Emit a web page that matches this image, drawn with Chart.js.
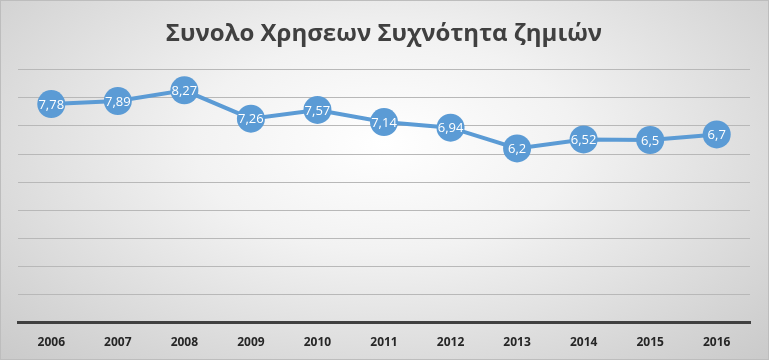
<!DOCTYPE html>
<html>
<head>
<meta charset="utf-8">
<script src="https://cdn.jsdelivr.net/npm/chart.js@4/dist/chart.umd.min.js"></script>
<style>
    html, body { margin: 0; padding: 0; }
    #wrap {
        width: 767px; height: 358px;
        border: 1px solid #bdbdbd;
        background: radial-gradient(ellipse at 50% 40%, #ffffff 0%, #f2f2f2 35%, #d6d6d6 80%, #cacaca 100%);
    }
</style>
</head>
<body>
<div id="wrap"><canvas id="freqChart" width="767" height="358"></canvas></div>
<script>
"use strict";
var years = ["2006", "2007", "2008", "2009", "2010", "2011", "2012", "2013", "2014", "2015", "2016"];
var frequency = [7.78, 7.89, 8.27, 7.26, 7.57, 7.14, 6.94, 6.2, 6.52, 6.5, 6.7];
var yTicks = [0, 1, 2, 3, 4, 5, 6, 7, 8, 9];

/* white value labels inside the markers */
var valueLabels = {
    id: "valueLabels",
    afterDatasetsDraw: function (chart) {
        var ctx = chart.ctx;
        var meta = chart.getDatasetMeta(0);
        ctx.save();
        ctx.font = "13px 'Open Sans', sans-serif";
        ctx.fillStyle = "#ffffff";
        ctx.textAlign = "center";
        ctx.textBaseline = "middle";
        meta.data.forEach(function (pt, i) {
            ctx.fillText(String(frequency[i]).replace(".", ","), pt.x, pt.y + 1);
        });
        ctx.restore();
    }
};

var ctx1 = document.getElementById("freqChart");
var myLineChart = new Chart(ctx1, {
    type: "line",
    data: {
        labels: years,
        datasets: [{
            data: frequency,
            borderColor: "#5b9bd5",
            backgroundColor: "#5b9bd5",
            borderWidth: 4,
            pointRadius: 14,
            pointHoverRadius: 14,
            pointBorderWidth: 0,
            tension: 0
        }]
    },
    options: {
        responsive: false,
        animation: false,
        layout: { padding: { left: 17, right: 18, bottom: 4 } },
        plugins: {
            legend: { display: false },
            tooltip: { enabled: false },
            title: {
                display: true,
                text: "Συνολο Χρησεων Συχνότητα ζημιών",
                color: "#404040",
                font: { family: "'Open Sans', sans-serif", size: 24, weight: "bold" },
                padding: { top: 19, bottom: 21 }
            }
        },
        scales: {
            x: {
                offset: true,
                grid: { display: false },
                border: { color: "#404040", width: 3 },
                ticks: {
                    color: "#262626",
                    font: { family: "'Open Sans', sans-serif", size: 12, weight: "bold" },
                    padding: 5
                }
            },
            y: {
                min: yTicks[0],
                max: yTicks[yTicks.length - 1],
                afterBuildTicks: function (axis) {
                    axis.ticks = yTicks.map(function (v) { return { value: v }; });
                },
                border: { display: false },
                grid: { color: "#b8b8b8", drawTicks: false },
                ticks: { display: false }
            }
        }
    },
    plugins: [valueLabels]
});
</script>
</body>
</html>
